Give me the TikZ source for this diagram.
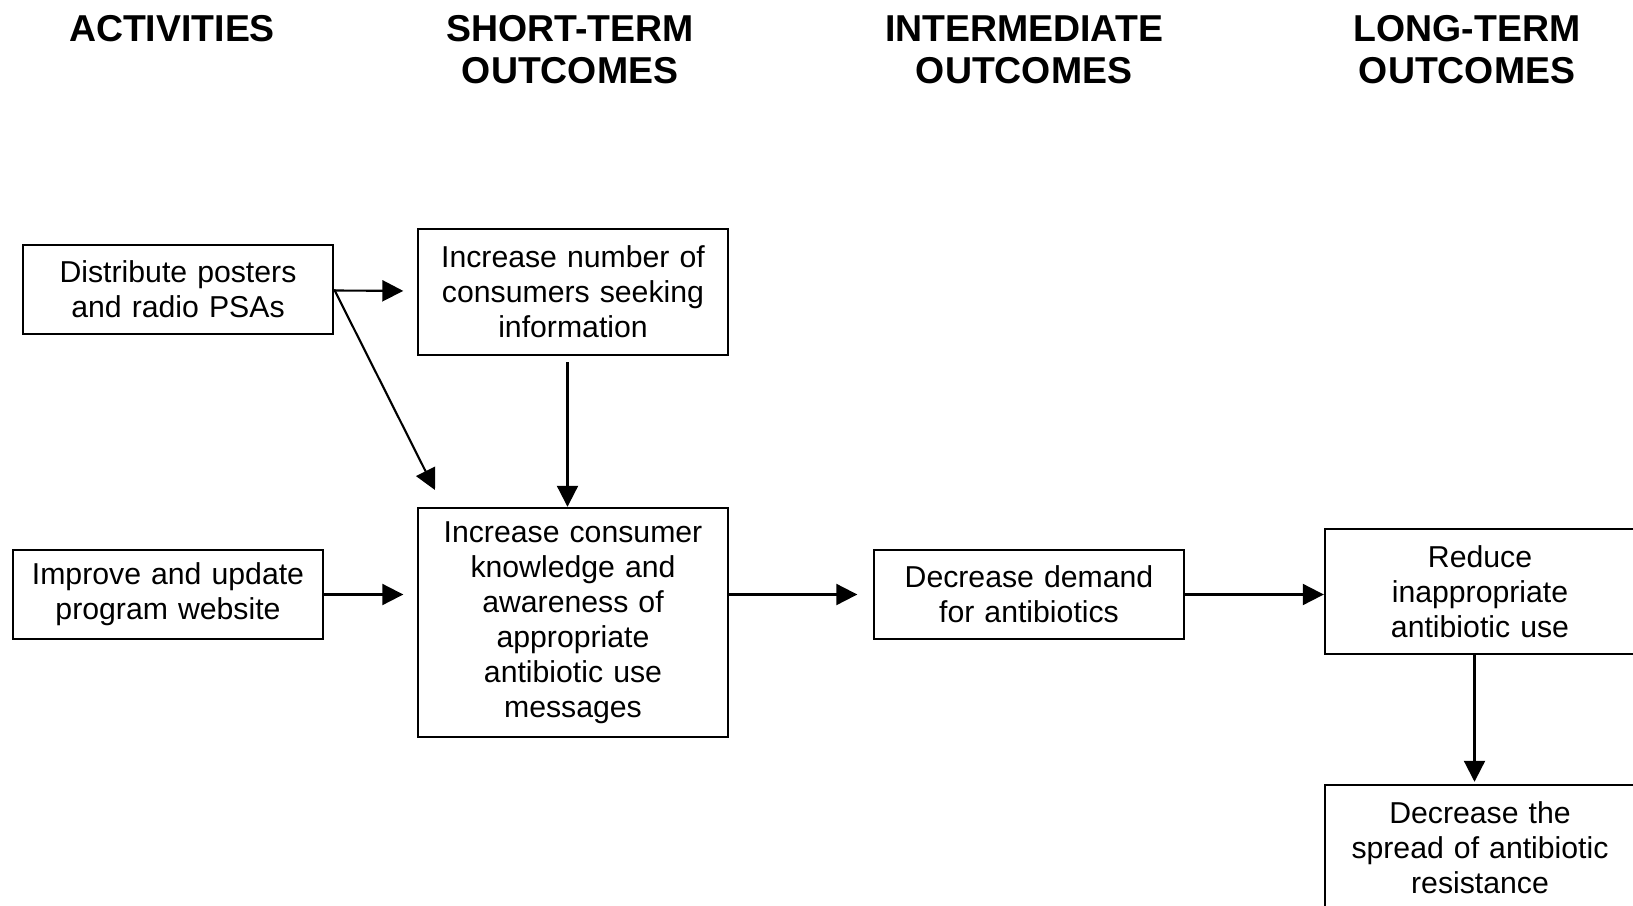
\documentclass[tikz,border=0pt]{standalone}
\usepackage{fontspec}
\setmainfont{Liberation Sans}
\usetikzlibrary{arrows.meta}

\begin{document}
\begin{tikzpicture}[x=0.02cm,y=-0.02cm]
\tikzset{Box/.style={draw, line width=1.4pt, inner sep=0pt, minimum width=6.2cm, text width=6cm, align=center, font=\fontsize{17.2}{19.9}\selectfont}}
\tikzset{Head/.style={inner sep=0pt, anchor=north, align=center, font=\bfseries\fontsize{21.3}{23.9}\selectfont}}
\tikzset{EdgeStyle/.style={line width=1.2pt, -{Triangle[length=0.42cm,width=0.42cm]}}}
\useasboundingbox (0,0) rectangle (1633,906);
% column heads
\node[Head] (ha) at (172,15) {ACTIVITIES};
\node[Head] (hs) at (570,15) {SHORT-TERM\\OUTCOMES};
\node[Head] (hi) at (1024,15) {INTERMEDIATE\\OUTCOMES};
\node[Head] (hl) at (1467,15) {LONG-TERM\\OUTCOMES};
% boxes
\node[Box, minimum height=1.78cm] (act1) at (178,289.5) {Distribute posters\\and radio PSAs};
\node[Box, minimum height=1.78cm] (act2) at (168,594.5) {Improve and update\\program website};
\node[Box, minimum height=2.52cm] (st1) at (573,292) {Increase number of\\consumers seeking\\information};
\node[Box, minimum height=4.58cm] (st2) at (573,622.5) {Increase consumer\\knowledge and\\awareness of\\appropriate\\antibiotic use\\messages};
\node[Box, minimum height=1.78cm] (im) at (1029,594.5) {Decrease demand\\for antibiotics};
\node[Box, minimum height=2.5cm] (lt1) at (1480,591.5) {Reduce\\inappropriate\\antibiotic use};
\node[Box, minimum height=2.52cm] (lt2) at (1480,848) {Decrease the\\spread of antibiotic\\resistance};
\coordinate (tip) at (435,490);
% links
\draw[EdgeStyle, shorten >=0.27cm] (act1) -- (st1);
\draw[EdgeStyle] (act1.east) -- (tip);
\draw[EdgeStyle, shorten <=0.12cm] ([xshift=-0.11cm]st1.south) -- ([xshift=-0.11cm]st2.north);
\draw[EdgeStyle, shorten >=0.27cm] (act2) -- (act2 -| st2.west);
\draw[EdgeStyle, shorten >=0.31cm] (st2.east |- im) -- (im);
\draw[EdgeStyle] (im) -- (im -| lt1.west);
\draw[EdgeStyle, shorten >=0.04cm] ([xshift=-0.11cm]lt1.south) -- ([xshift=-0.11cm]lt2.north);
\end{tikzpicture}
\end{document}
